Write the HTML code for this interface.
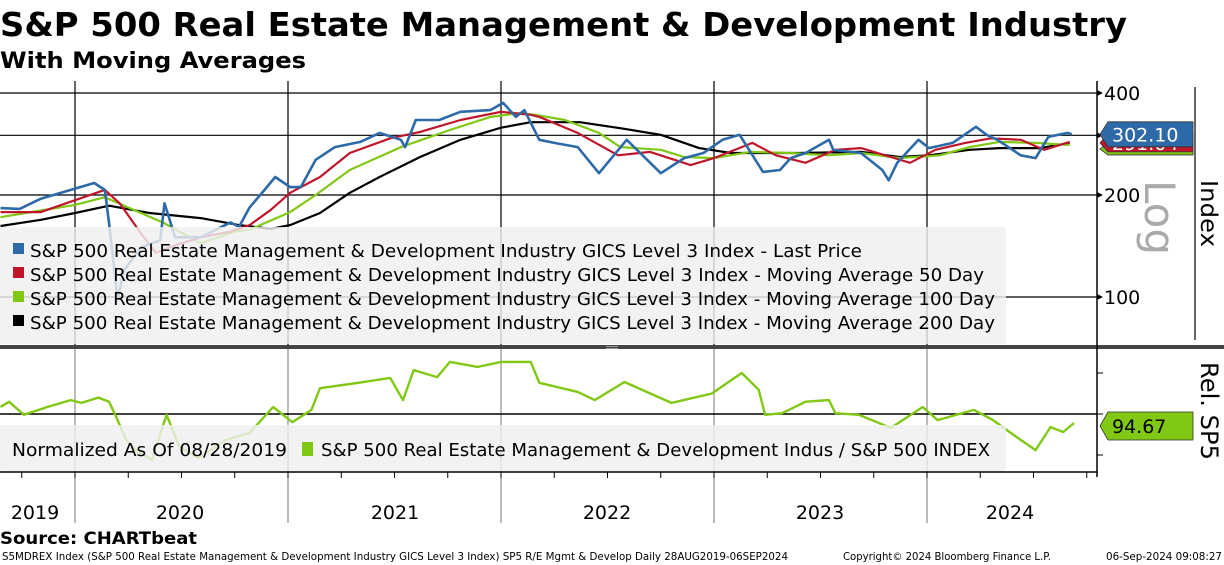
<!DOCTYPE html>
<html><head><meta charset="utf-8"><style>
html,body{margin:0;padding:0;background:#fff;}
svg{display:block;}
text{font-family:"DejaVu Sans","Liberation Sans",sans-serif;}
</style></head><body>
<svg id="chart" width="1224" height="565" viewBox="0 0 1224 565" xmlns="http://www.w3.org/2000/svg">
<text x="0" y="36" font-size="33" font-weight="bold" textLength="1127" lengthAdjust="spacingAndGlyphs">S&amp;P 500 Real Estate Management &amp; Development Industry</text>
<text x="0" y="68" font-size="22" font-weight="bold" textLength="306" lengthAdjust="spacingAndGlyphs">With Moving Averages</text>
<g id="grid"></g>
<g id="top-series"></g>
<g id="top-legend">
<rect x="0" y="227" width="1006" height="117" fill="#efefef" fill-opacity="0.82" rx="3"/>
<rect x="13" y="243" width="11" height="11" fill="#2e6aa8"/>
<text x="30" y="257" font-size="18" textLength="832" lengthAdjust="spacingAndGlyphs">S&amp;P 500 Real Estate Management &amp; Development Industry GICS Level 3 Index - Last Price</text>
<rect x="13" y="267" width="11" height="11" fill="#c0162c"/>
<text x="30" y="281" font-size="18" textLength="954" lengthAdjust="spacingAndGlyphs">S&amp;P 500 Real Estate Management &amp; Development Industry GICS Level 3 Index - Moving Average 50 Day</text>
<rect x="13" y="291" width="11" height="11" fill="#80c814"/>
<text x="30" y="305" font-size="18" textLength="965" lengthAdjust="spacingAndGlyphs">S&amp;P 500 Real Estate Management &amp; Development Industry GICS Level 3 Index - Moving Average 100 Day</text>
<rect x="13" y="315" width="11" height="11" fill="#000"/>
<text x="30" y="329" font-size="18" textLength="965" lengthAdjust="spacingAndGlyphs">S&amp;P 500 Real Estate Management &amp; Development Industry GICS Level 3 Index - Moving Average 200 Day</text>
</g>
<rect x="0" y="345" width="1224" height="4" fill="#444"/>
<g id="bot-series"></g>
<g>
<rect x="0" y="425" width="1006" height="46" fill="#efefef" fill-opacity="0.82" rx="3"/>
<text x="12" y="456" font-size="18" textLength="275" lengthAdjust="spacingAndGlyphs">Normalized As Of 08/28/2019</text>
<rect x="302" y="442" width="11" height="14" fill="#80c814"/>
<text x="321" y="456" font-size="18" textLength="669" lengthAdjust="spacingAndGlyphs">S&amp;P 500 Real Estate Management &amp; Development Indus / S&amp;P 500 INDEX</text>
</g>
<g id="axes"></g>
<text x="0" y="544" font-size="17" font-weight="bold" textLength="197" lengthAdjust="spacingAndGlyphs">Source: CHARTbeat</text>
<text x="2" y="560" font-size="11" textLength="786" lengthAdjust="spacingAndGlyphs">S5MDREX Index (S&amp;P 500 Real Estate Management &amp; Development Industry GICS Level 3 Index) SP5 R/E Mgmt &amp; Develop  Daily 28AUG2019-06SEP2024</text>
<text x="843" y="560" font-size="11" textLength="208" lengthAdjust="spacingAndGlyphs">Copyright© 2024 Bloomberg Finance L.P.</text>
<text x="1106" y="560" font-size="11" textLength="116" lengthAdjust="spacingAndGlyphs">06-Sep-2024 09:08:27</text>
</svg>
<script>
const priceT=[2019.65,2019.74,2019.84,2019.98,2020.09,2020.14,2020.16,2020.20,2020.23,2020.31,2020.40,2020.42,2020.47,2020.59,2020.73,2020.77,2020.82,2020.89,2020.94,2021.01,2021.06,2021.13,2021.22,2021.34,2021.43,2021.53,2021.55,2021.60,2021.71,2021.81,2021.95,2022.01,2022.07,2022.11,2022.18,2022.25,2022.36,2022.46,2022.59,2022.75,2022.86,2022.95,2023.04,2023.12,2023.23,2023.31,2023.36,2023.43,2023.54,2023.56,2023.69,2023.79,2023.82,2023.86,2023.96,2024.01,2024.12,2024.23,2024.28,2024.33,2024.44,2024.51,2024.57,2024.66,2024.68];
const priceV=[183,182,195,207,217,207,165,98,120,140,147,189,150,150,166,161,184,207,226,211,211,254,277,287,305,291,277,333,333,352,356,374,340,356,291,285,277,232,291,232,257,266,291,301,234,237,257,266,291,272,266,237,221,249,291,275,285,318,301,291,262,257,297,305,302.1];
const ma50T=[2019.65,2019.84,2020.00,2020.14,2020.21,2020.31,2020.38,2020.47,2020.59,2020.73,2020.82,2020.92,2021.01,2021.15,2021.29,2021.48,2021.62,2021.81,2022.00,2022.14,2022.18,2022.36,2022.55,2022.70,2022.89,2023.00,2023.18,2023.29,2023.43,2023.57,2023.69,2023.83,2023.92,2024.04,2024.18,2024.30,2024.44,2024.55,2024.67];
const ma50V=[178,178,193,207,189,154,135,142,150,156,163,181,203,226,266,294,307,333,352,345,340,305,262,268,245,257,285,262,249,272,275,259,249,272,285,294,291,272,287];
const ma100T=[2019.65,2019.84,2020.00,2020.14,2020.31,2020.42,2020.59,2020.75,2020.82,2021.01,2021.13,2021.29,2021.53,2021.76,2021.95,2022.09,2022.16,2022.30,2022.46,2022.56,2022.75,2022.86,2023.00,2023.17,2023.36,2023.54,2023.69,2023.87,2024.06,2024.20,2024.34,2024.51,2024.67];
const ma100V=[172,180,187,197,177,165,144,156,158,178,200,237,277,311,340,349,345,333,305,277,272,259,257,268,266,262,266,257,262,277,287,285,281];
const ma200T=[2019.65,2019.84,2020.00,2020.16,2020.35,2020.59,2020.77,2020.92,2021.01,2021.15,2021.29,2021.43,2021.62,2021.81,2022.00,2022.14,2022.37,2022.56,2022.75,2022.93,2023.08,2023.40,2023.69,2023.87,2024.01,2024.20,2024.34,2024.53,2024.67];
const ma200V=[162,169,177,186,177,171,163,159,163,177,203,226,259,291,316,328,328,315,301,275,266,266,268,259,262,272,275,275,285];
const relT=[2019.65,2019.69,2019.76,2019.87,2019.98,2020.03,2020.11,2020.16,2020.20,2020.24,2020.29,2020.36,2020.43,2020.49,2020.58,2020.71,2020.82,2020.93,2021.02,2021.11,2021.15,2021.33,2021.48,2021.54,2021.59,2021.70,2021.76,2021.89,2022.00,2022.14,2022.18,2022.36,2022.44,2022.58,2022.80,2022.99,2023.13,2023.21,2023.24,2023.32,2023.43,2023.54,2023.57,2023.68,2023.83,2023.98,2024.05,2024.22,2024.31,2024.42,2024.51,2024.58,2024.64,2024.69];
const relV=[101.7,103,99.8,101.7,103.4,102.7,104,103,98.5,93.7,91,88.8,99.8,92,89.3,93.7,95.4,101.7,98,101,106.3,107.6,108.8,103.4,110.7,109,112.7,111.5,112.7,112.7,107.6,105.4,103.4,107.8,102.7,105,110,105.9,99.8,100.2,103,103.4,100.2,99.8,96.6,101.7,98.5,101,98.5,94.4,91.2,96.8,95.6,97.8];
const priceTicks=[400,300,200,100];
const priceLabels=["400","200","100"];
const relTicks=[110,100,90];
const yearLabels=["2019","2020","2021","2022","2023","2024"];
const yearStarts=[2020,2021,2022,2023,2024];
const lastPrice="302.10", lastMA50="291.04", lastRel="94.67";

const NS="http://www.w3.org/2000/svg";
function X(t){return 75+(t-2020)*213;}
function Yp(v){return 195-102*Math.log2(v/200);}
function Yr(v){return 414-(v-100)*4.1;}
function mk(tag,attrs,parent){const e=document.createElementNS(NS,tag);for(const k in attrs)e.setAttribute(k,attrs[k]);parent.appendChild(e);return e;}
const grid=document.getElementById('grid'),axes=document.getElementById('axes');
const topG=document.getElementById('top-series'),botG=document.getElementById('bot-series');
yearStarts.forEach(y=>{
  const l=mk('line',{x1:X(y),x2:X(y),y1:81,y2:345,stroke:'#000','stroke-width':1.2},grid);
  
  
  const l2=mk('line',{x1:X(y),x2:X(y),y1:349,y2:523,stroke:'#777','stroke-width':1},grid);
  
  
});
priceTicks.forEach(v=>{
  const l=mk('line',{x1:0,x2:1097,y1:Yp(v),y2:Yp(v),stroke:'#000','stroke-width':1.2},grid);
  
  
});
const rl=mk('line',{x1:0,x2:1097,y1:Yr(100),y2:Yr(100),stroke:'#000','stroke-width':1.5},grid);


function path(T,V,fy,color,w,name,parent){
  let d='';T.forEach((t,i)=>{d+=(i?'L':'M')+X(t).toFixed(1)+','+fy(V[i]).toFixed(1);});
  const p=mk('path',{d:d,fill:'none',stroke:color,'stroke-width':w,'stroke-linejoin':'round'},parent);
  
  
}
path(ma200T,ma200V,Yp,'#000',2.2,'ma200-line',topG);
path(ma100T,ma100V,Yp,'#80c814',2.2,'ma100-line',topG);
path(ma50T,ma50V,Yp,'#c0162c',2.2,'ma50-line',topG);
path(priceT,priceV,Yp,'#2e6aa8',2.6,'last-price-line',topG);
path(relT,relV,Yr,'#80c814',2.4,'relative-line',botG);
mk('line',{x1:1097,x2:1097,y1:81,y2:477,stroke:'#000','stroke-width':1.5},axes);
mk('line',{x1:0,x2:1097,y1:472,y2:472,stroke:'#000','stroke-width':1.5},axes);
mk('line',{x1:1195,x2:1195,y1:87,y2:340,stroke:'#000','stroke-width':1.2},axes);
for(let q=2019.75;q<2024.8;q+=0.25){const x=X(q);if(x>0&&x<1097)mk('line',{x1:x,x2:x,y1:472,y2:478,stroke:'#000','stroke-width':1},axes);}
priceTicks.forEach(v=>{mk('path',{d:`M1097,${Yp(v)-3}L1103,${Yp(v)}L1097,${Yp(v)+3}Z`,fill:'#000'},axes);});
[400,200,100].forEach((v,i)=>{
  const t=mk('text',{x:1104,y:Yp(v)+7,'font-size':19},axes);t.textContent=priceLabels[i];
  
  
});
relTicks.forEach(v=>{mk('line',{x1:1097,x2:1103,y1:Yr(v),y2:Yr(v),stroke:'#000','stroke-width':1},axes);});
yearLabels.forEach((s,i)=>{
  const cx=[35,180,395,607,820,1010][i];
  const t=mk('text',{x:cx,y:519,'font-size':19,'text-anchor':'middle'},axes);t.textContent=s;
  
  
});
function tag(y,color,txt,tc,h,name){
  const g=mk('g',{},axes);
  
  
  mk('path',{d:`M1100,${y}L1108,${y-h/2}L1193,${y-h/2}L1193,${y+h/2}L1108,${y+h/2}Z`,fill:color,stroke:'#333','stroke-width':0.8},g);
  if(txt){const t=mk('text',{x:1112,y:y+7,'font-size':19,fill:tc},g);t.textContent=txt;}
}
tag(Yp(281)+4,'#80c814','',null,12,'ma100-tag');
tag(Yp(287)+1,'#c0162c',lastMA50,'#fff',18,'ma50-tag');
tag(Yp(302.1),'#2e6aa8',lastPrice,'#fff',25,'last-price-tag');
tag(426,'#80c814',lastRel,'#000',28,'relative-tag');
let t1=mk('text',{x:0,y:0,'font-size':42,fill:'#aaa',transform:'translate(1145,180) rotate(90)'},axes);t1.textContent='Log';


let t2=mk('text',{x:0,y:0,'font-size':23,textLength:67,lengthAdjust:'spacingAndGlyphs',transform:'translate(1201,180) rotate(90)'},axes);t2.textContent='Index';


let t3=mk('text',{x:0,y:0,'font-size':24,textLength:98,lengthAdjust:'spacingAndGlyphs',transform:'translate(1201,362) rotate(90)'},axes);t3.textContent='Rel. SP5';


mk('rect',{x:606,y:346,width:12,height:1,fill:'#999'},axes);
mk('rect',{x:606,y:348,width:12,height:1,fill:'#999'},axes);
</script>
</body></html>
